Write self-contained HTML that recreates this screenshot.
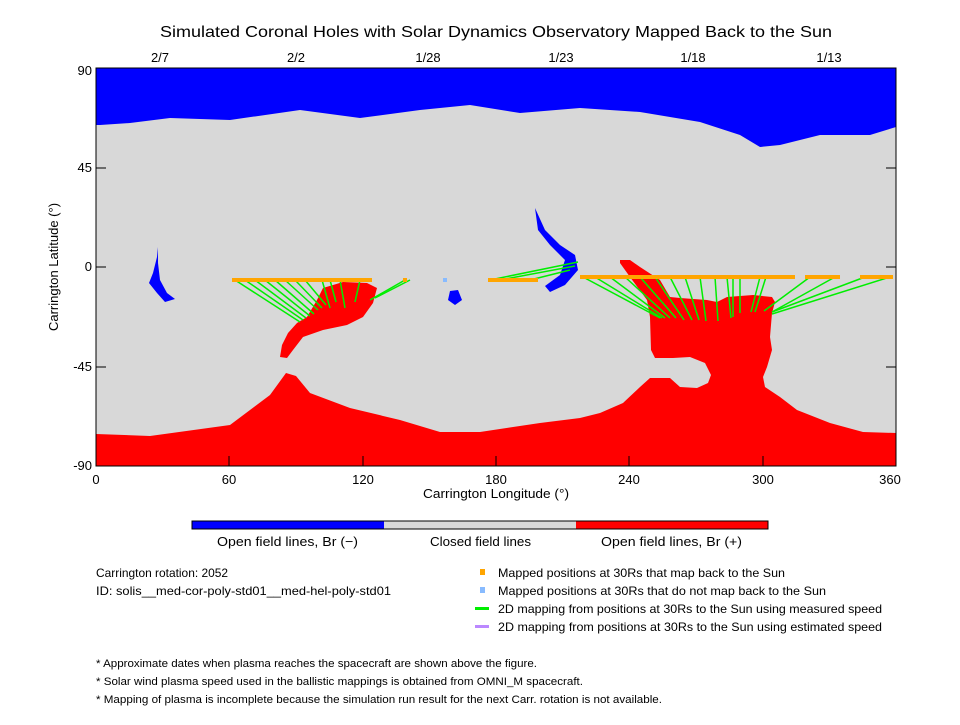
<!DOCTYPE html>
<html><head><style>
body{margin:0;background:#fff;}
svg text{font-family:"Liberation Sans",sans-serif;fill:#000;}
</style></head><body>
<svg width="960" height="720" viewBox="0 0 960 720" xmlns="http://www.w3.org/2000/svg">
<rect width="960" height="720" fill="#fff"/>
<text x="160" y="37" font-size="16" textLength="672" lengthAdjust="spacingAndGlyphs">Simulated Coronal Holes with Solar Dynamics Observatory Mapped Back to the Sun</text>
<g font-size="13" text-anchor="middle">
<text x="160" y="62">2/7</text><text x="296" y="62">2/2</text><text x="428" y="62">1/28</text>
<text x="561" y="62">1/23</text><text x="693" y="62">1/18</text><text x="829" y="62">1/13</text>
</g>
<rect x="96" y="68" width="800" height="398" fill="#d8d8d8"/>
<path d="M96,68 H896 V127 L870,135 L820,135 L780,145 L760,147 L740,135 L700,122 L640,112 L580,108 L520,113 L470,105 L420,110 L360,118 L300,110 L230,120 L170,118 L130,123 L100,125 L96,125 Z" fill="#0000ff"/>
<path d="M96,466 H896 V433 L863,432 L830,423 L797,410 L780,397 L765,387 L763,377 L767,367 L772,350 L770,337 L772,313 L775,302 L772,297 L753,295 L727,297 L717,302 L707,300 L680,298 L670,297 L660,280 L640,267 L630,260 L620,260 L620,263 L630,277 L647,300 L650,317 L651,350 L655,358 L673,358 L690,357 L705,363 L711,375 L708,383 L697,388 L680,387 L670,378 L650,378 L640,387 L623,403 L600,413 L580,418 L540,423 L480,432 L440,432 L400,420 L350,408 L310,393 L296,376 L286,373 L270,395 L230,425 L150,436 L96,434 Z" fill="#ff0000"/>
<path d="M282,345 L280,357 L287,358 L293,350 L303,337 L323,330 L347,325 L363,317 L373,303 L377,288 L367,283 L343,282 L323,288 L317,300 L307,317 L297,323 L288,333 Z" fill="#ff0000"/>
<path d="M158,247 L157,257 L153,273 L149,283 L157,293 L165,302 L175,299 L167,293 L160,280 L158,263 Z" fill="#0000ff"/>
<path d="M450,291 L458,290 L462,300 L455,305 L448,300 Z" fill="#0000ff"/>
<path d="M535,208 L545,230 L560,245 L575,255 L578,270 L565,285 L550,292 L545,286 L560,275 L565,260 L550,245 L538,230 Z" fill="#0000ff"/>
<g stroke="#00ee00" stroke-width="1.5">
<line x1="235" y1="280" x2="300" y2="322"/><line x1="245" y1="280" x2="303" y2="320"/><line x1="255" y1="280" x2="306" y2="318"/>
<line x1="265" y1="280" x2="310" y2="316"/><line x1="275" y1="280" x2="314" y2="314"/><line x1="285" y1="280" x2="318" y2="310"/>
<line x1="295" y1="280" x2="322" y2="308"/><line x1="305" y1="280" x2="326" y2="305"/><line x1="322" y1="280" x2="330" y2="308"/>
<line x1="330" y1="280" x2="336" y2="302"/><line x1="340" y1="280" x2="345" y2="308"/><line x1="360" y1="280" x2="355" y2="302"/>
<line x1="405" y1="280" x2="370" y2="300"/><line x1="410" y1="280" x2="375" y2="298"/>
<line x1="490" y1="280" x2="578" y2="262"/><line x1="500" y1="280" x2="575" y2="266"/><line x1="530" y1="280" x2="570" y2="270"/>
<line x1="583" y1="277" x2="660" y2="318"/><line x1="595" y1="277" x2="662" y2="318"/><line x1="610" y1="277" x2="665" y2="318"/>
<line x1="625" y1="277" x2="670" y2="318"/><line x1="640" y1="277" x2="676" y2="318"/><line x1="655" y1="277" x2="684" y2="320"/>
<line x1="670" y1="277" x2="692" y2="320"/><line x1="685" y1="277" x2="699" y2="320"/><line x1="700" y1="277" x2="706" y2="321"/>
<line x1="715" y1="277" x2="718" y2="321"/><line x1="727" y1="277" x2="731" y2="318"/><line x1="733" y1="277" x2="733" y2="317"/>
<line x1="740" y1="277" x2="740" y2="313"/><line x1="760" y1="277" x2="751" y2="312"/><line x1="766" y1="277" x2="755" y2="312"/>
<line x1="810" y1="277" x2="764" y2="311"/><line x1="835" y1="277" x2="772" y2="312"/><line x1="865" y1="277" x2="772" y2="312"/><line x1="890" y1="277" x2="772" y2="314"/>
</g>
<g fill="#ffa500">
<rect x="232" y="278" width="140" height="4"/>
<rect x="403" y="278" width="4" height="4"/><rect x="488" y="278" width="50" height="4"/>
<rect x="580" y="275" width="215" height="4"/><rect x="805" y="275" width="35" height="4"/><rect x="860" y="275" width="33" height="4"/>
</g>
<rect x="443" y="278" width="4" height="4" fill="#88bbff"/>
<rect x="96" y="68" width="800" height="398" fill="none" stroke="#000" stroke-width="1"/>
<g stroke="#000">
<line x1="96" y1="168" x2="106" y2="168"/><line x1="96" y1="267" x2="106" y2="267"/><line x1="96" y1="367" x2="106" y2="367"/>
<line x1="886" y1="168" x2="896" y2="168"/><line x1="886" y1="267" x2="896" y2="267"/><line x1="886" y1="367" x2="896" y2="367"/>
<line x1="229" y1="466" x2="229" y2="456"/><line x1="363" y1="466" x2="363" y2="456"/><line x1="496" y1="466" x2="496" y2="456"/>
<line x1="629" y1="466" x2="629" y2="456"/><line x1="763" y1="466" x2="763" y2="456"/>
</g>
<g font-size="13" text-anchor="end">
<text x="92" y="75">90</text><text x="92" y="172">45</text><text x="92" y="271">0</text><text x="92" y="371">-45</text><text x="92" y="470">-90</text>
</g>
<g font-size="13" text-anchor="middle">
<text x="96" y="484">0</text><text x="229" y="484">60</text><text x="363" y="484">120</text><text x="496" y="484">180</text>
<text x="629" y="484">240</text><text x="763" y="484">300</text><text x="890" y="484">360</text>
</g>
<text x="423" y="498" font-size="13" textLength="146" lengthAdjust="spacingAndGlyphs">Carrington Longitude (°)</text>
<text transform="translate(58,267) rotate(-90)" font-size="13" text-anchor="middle">Carrington Latitude (°)</text>
<rect x="192" y="521" width="192" height="8" fill="#0000ff"/>
<rect x="384" y="521" width="192" height="8" fill="#d8d8d8"/>
<rect x="576" y="521" width="192" height="8" fill="#ff0000"/>
<rect x="192" y="521" width="576" height="8" fill="none" stroke="#000"/>
<g font-size="13">
<text x="217" y="546" textLength="141" lengthAdjust="spacingAndGlyphs">Open field lines, Br (−)</text>
<text x="430" y="546" textLength="101" lengthAdjust="spacingAndGlyphs">Closed field lines</text>
<text x="601" y="546" textLength="141" lengthAdjust="spacingAndGlyphs">Open field lines, Br (+)</text>
</g>
<g font-size="12">
<text x="96" y="577" textLength="132" lengthAdjust="spacingAndGlyphs">Carrington rotation: 2052</text>
<text x="96" y="595" textLength="295" lengthAdjust="spacingAndGlyphs">ID: solis__med-cor-poly-std01__med-hel-poly-std01</text>
<text x="498" y="577" textLength="287" lengthAdjust="spacingAndGlyphs">Mapped positions at 30Rs that map back to the Sun</text>
<text x="498" y="595" textLength="328" lengthAdjust="spacingAndGlyphs">Mapped positions at 30Rs that do not map back to the Sun</text>
<text x="498" y="613" textLength="384" lengthAdjust="spacingAndGlyphs">2D mapping from positions at 30Rs to the Sun using measured speed</text>
<text x="498" y="631" textLength="384" lengthAdjust="spacingAndGlyphs">2D mapping from positions at 30Rs to the Sun using estimated speed</text>
<text x="96" y="667" font-size="11" textLength="441" lengthAdjust="spacingAndGlyphs">* Approximate dates when plasma reaches the spacecraft are shown above the figure.</text>
<text x="96" y="685" font-size="11" textLength="487" lengthAdjust="spacingAndGlyphs">* Solar wind plasma speed used in the ballistic mappings is obtained from OMNI_M spacecraft.</text>
<text x="96" y="703" font-size="11" textLength="566" lengthAdjust="spacingAndGlyphs">* Mapping of plasma is incomplete because the simulation run result for the next Carr. rotation is not available.</text>
</g>
<rect x="480" y="569" width="5" height="6" fill="#ffa500"/>
<rect x="480" y="587" width="5" height="6" fill="#88bbff"/>
<rect x="475" y="607" width="14" height="3" fill="#00ee00"/>
<rect x="475" y="625" width="14" height="3" fill="#bb88ff"/>
</svg>
</body></html>
